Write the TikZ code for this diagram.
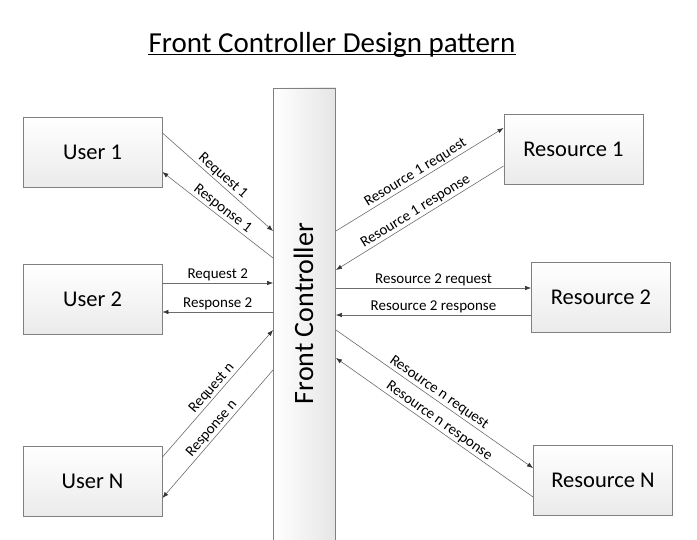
\documentclass[tikz,border=0pt]{standalone}
\usepackage{fontspec}
\setmainfont{Carlito}
\usetikzlibrary{positioning,calc,arrows.meta}
\tikzset{
  caja/.style={draw=gray,line width=0.9pt,top color=white,bottom color=gray!16,minimum width=139pt,minimum height=70pt,font=\fontsize{22.5}{27}\selectfont},
  barra/.style={draw=gray,line width=0.9pt,left color=white,right color=gray!20,minimum width=62pt,minimum height=457pt},
  arr/.style={line width=0.6pt,draw=gray!85!black,-{Latex[length=6pt,width=4.5pt,color=black!80]}},
  etiq/.style={font=\fontsize{15}{18}\selectfont,sloped,above,inner sep=1.5pt}
}
\begin{document}
\begin{tikzpicture}[x=1pt,y=-1pt]
	\useasboundingbox (0,0) rectangle (697,540);
	\node[font=\fontsize{29}{34}\selectfont,inner sep=0pt,anchor=base] (titulo) at (332,53) {Front Controller Design pattern};
	\draw[line width=1.1pt] ([yshift=-1.5pt]titulo.base west) -- ([yshift=-1.5pt]titulo.base east);

	\node[barra] (fc) at (304.5,316.5) {};
	\node[rotate=90,font=\fontsize{28}{34}\selectfont] (fctexto) at ([xshift=-1pt,yshift=3pt]fc.center) {Front Controller};

	\foreach \Nombre/\Texto/\Y in {user1/User 1/152.5,user2/User 2/299.5,userN/User N/481} {
		\node[caja] (\Nombre) at (92.5,\Y) {\Texto};
	}
	\foreach \Nombre/\Texto/\X/\Y in {res1/Resource 1/573.5/149.5,res2/Resource 2/601/297,resN/Resource N/603/480} {
		\node[caja] (\Nombre) at (\X,\Y) {\Texto};
	}

	% users <-> front controller
	\draw[arr] ([yshift=19.5pt]user1.east) -- node[etiq] (lreq1) {Request 1} ([yshift=85.5pt]fc.west);
	\draw[arr] ([yshift=58.5pt]fc.west) -- node[etiq] (lres1) {Response 1} ([yshift=-19.5pt]user1.east);
	\draw[arr] ([yshift=16.5pt]user2.east) -- node[etiq] (lreq2) {Request 2} ([yshift=33.5pt]fc.west);
	\draw[arr] ([yshift=4.5pt]fc.west) -- node[etiq] (lres2) {Response 2} ([yshift=-12.5pt]user2.east);
	\draw[arr] ([yshift=24pt]userN.east) -- node[etiq] (lreqn) {Request n} ([yshift=-13.5pt]fc.west);
	\draw[arr] ([yshift=-53.5pt]fc.west) -- node[etiq] (lresn) {Response n} ([yshift=-17pt]userN.east);

	% front controller <-> resources
	\draw[arr] ([yshift=85.5pt]fc.east) -- node[etiq] (lrreq1) {Resource 1 request} ([yshift=21.5pt]res1.west);
	\draw[arr] ([yshift=-16.5pt]res1.west) -- node[etiq] (lrres1) {Resource 1 response} ([yshift=46.5pt]fc.east);
	\draw[arr] ([yshift=28.5pt]fc.east) -- node[etiq] (lrreq2) {Resource 2 request} ([yshift=9pt]res2.west);
	\draw[arr] ([yshift=-18pt]res2.west) -- node[etiq] (lrres2) {Resource 2 response} ([yshift=1.5pt]fc.east);
	\draw[arr] ([yshift=-13.5pt]fc.east) -- node[etiq] (lrreqn) {Resource n request} ([yshift=12pt]resN.west);
	\draw[arr] ([yshift=-17pt]resN.west) -- node[etiq] (lrresn) {Resource n response} ([yshift=-41.5pt]fc.east);
\end{tikzpicture}
\end{document}
